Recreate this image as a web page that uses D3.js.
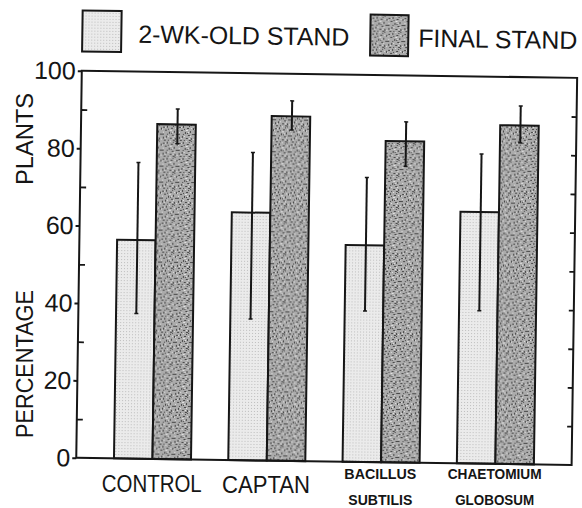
<!DOCTYPE html>
<html>
<head>
<meta charset="utf-8">
<script src="https://cdn.jsdelivr.net/npm/d3@7"></script>
<style>
html,body{margin:0;padding:0;background:#fff;}
svg{display:block;}
text{font-family:"Liberation Sans",Arial,Helvetica,sans-serif;fill:#151515;}
</style>
</head>
<body>
<script>
// ---- data ----
const categories = ["CONTROL", "CAPTAN", "BACILLUS SUBTILIS", "CHAETOMIUM GLOBOSUM"];
const categoryLines = [["CONTROL"], ["CAPTAN"], ["BACILLUS", "SUBTILIS"], ["CHAETOMIUM", "GLOBOSUM"]];
const seriesNames = ["2-WK-OLD STAND", "FINAL STAND"];
const twoWeek = [56.5, 64, 56, 65];
const finalStand = [86.5, 89, 83, 87.5];
const twoWeekLow = [37.5, 36.5, 39, 39.5];
const twoWeekHigh = [76.5, 79.5, 73.5, 80];
const finalLow = [81.5, 85.5, 76.5, 83];
const finalHigh = [90.5, 93, 88, 92.5];
const yTicks = [0, 20, 40, 60, 80, 100];
const yMinorLeft = [10, 30, 50, 70, 90];
const yMinorRight = [10, 20, 30, 40, 50, 60, 70, 80, 90];
const yTitle = ["PERCENTAGE", "PLANTS"];

// ---- layout ----
const W = 582, H = 508;
const x0 = 79, x1 = 574.4, y0 = 74.3, y1 = 461.4;
const ink = "#161616";

const svg = d3.select("body").append("svg").attr("width", W).attr("height", H);
const defs = svg.append("defs");

// fine stipple pattern (2-week)
const p1 = defs.append("pattern").attr("id", "stip").attr("patternUnits", "userSpaceOnUse")
  .attr("width", 3).attr("height", 3);
p1.append("rect").attr("width", 3).attr("height", 3).attr("fill", "#ebebeb");
p1.append("rect").attr("x", 1).attr("y", 1).attr("width", 1).attr("height", 1).attr("fill", "#bdbdbd");

// coarse speckle pattern (final)
const p2 = defs.append("pattern").attr("id", "speck").attr("patternUnits", "userSpaceOnUse")
  .attr("width", 16).attr("height", 16);
p2.append("rect").attr("width", 16).attr("height", 16).attr("fill", "#ababab");
const darkSpots = [[1,1,2,1],[5,0,1,2],[9,2,2,1],[12,5,1,2],[3,4,2,1],[7,6,1,2],[0,8,2,1],[10,9,2,1],[4,10,1,2],[8,12,2,1],[13,12,1,2],[2,14,2,1],[6,3,1,1],[11,0,1,1],[14,8,2,1],[15,2,1,2],[6,14,1,1],[11,14,2,1],[1,11,1,2],[9,7,1,1],[13,15,1,1],[5,8,1,1]];
darkSpots.forEach(s => p2.append("rect").attr("x", s[0]).attr("y", s[1]).attr("width", s[2]).attr("height", s[3]).attr("fill", "#484848"));
const lightSpots = [[3,1,1,1],[8,4,2,1],[1,6,1,1],[6,10,1,1],[12,10,1,1],[10,6,1,1],[3,12,1,1],[13,2,1,1],[15,13,1,1],[8,15,1,1],[0,3,1,1],[11,12,1,1]];
lightSpots.forEach(s => p2.append("rect").attr("x", s[0]).attr("y", s[1]).attr("width", s[2]).attr("height", s[3]).attr("fill", "#e2e2e2"));

// rotated group (scan tilt)
const g = svg.append("g").attr("transform", "rotate(0.82, 326.7, 267.85)");

const x = d3.scaleBand().domain(categories).range([x0, x1]).paddingInner(0.326).paddingOuter(0.33);
const xs = d3.scaleBand().domain(seriesNames).range([0, x.bandwidth()]);
const y = d3.scaleLinear().domain([0, 100]).range([y1, y0]);

const series = [
  {name: seriesNames[0], vals: twoWeek, lo: twoWeekLow, hi: twoWeekHigh, fill: "url(#stip)"},
  {name: seriesNames[1], vals: finalStand, lo: finalLow, hi: finalHigh, fill: "url(#speck)"}
];

// bars
series.forEach(s => {
  g.append("g").selectAll("rect").data(categories).join("rect")
    .attr("x", d => x(d) + xs(s.name))
    .attr("y", (d, i) => y(s.vals[i]))
    .attr("width", xs.bandwidth())
    .attr("height", (d, i) => y(0) - y(s.vals[i]))
    .attr("fill", s.fill).attr("stroke", ink).attr("stroke-width", 2);
});

// error bars
series.forEach(s => {
  const eg = g.append("g").selectAll("g").data(categories).join("g");
  const cx = d => x(d) + xs(s.name) + xs.bandwidth() / 2 + 1;
  eg.append("line").attr("x1", cx).attr("x2", cx)
    .attr("y1", (d, i) => y(s.lo[i])).attr("y2", (d, i) => y(s.hi[i]))
    .attr("stroke", ink).attr("stroke-width", 2);
  eg.append("line").attr("x1", d => cx(d) - 2).attr("x2", d => cx(d) + 2)
    .attr("y1", (d, i) => y(s.lo[i])).attr("y2", (d, i) => y(s.lo[i]))
    .attr("stroke", ink).attr("stroke-width", 1.5);
  eg.append("line").attr("x1", d => cx(d) - 2).attr("x2", d => cx(d) + 2)
    .attr("y1", (d, i) => y(s.hi[i])).attr("y2", (d, i) => y(s.hi[i]))
    .attr("stroke", ink).attr("stroke-width", 1.5);
});

// frame
g.append("rect").attr("x", x0).attr("y", y0).attr("width", x1 - x0).attr("height", y1 - y0)
  .attr("fill", "none").attr("stroke", ink).attr("stroke-width", 2);

// left axis (major outward ticks with labels)
const yAxis = d3.axisLeft(y).tickValues(yTicks).tickSize(4).tickPadding(2).tickFormat(d3.format("d"));
const ya = g.append("g").attr("transform", `translate(${x0},0)`).call(yAxis);
ya.select(".domain").remove();
ya.selectAll(".tick line").attr("stroke", ink).attr("stroke-width", 2);
ya.selectAll(".tick text").attr("font-size", 25).attr("fill", ink)
  .attr("font-family", "'Liberation Sans',Arial,sans-serif").attr("dy", "0.33em");

// left axis minor inward ticks
const yMinL = d3.axisRight(y).tickValues(yMinorLeft).tickSize(6).tickFormat("");
const ym = g.append("g").attr("transform", `translate(${x0},0)`).call(yMinL);
ym.select(".domain").remove();
ym.selectAll(".tick line").attr("stroke", ink).attr("stroke-width", 1.8);

// right axis inward ticks
const yR = d3.axisLeft(y).tickValues(yMinorRight).tickSize(5).tickFormat("");
const yr = g.append("g").attr("transform", `translate(${x1},0)`).call(yR);
yr.select(".domain").remove();
yr.selectAll(".tick line").attr("stroke", ink).attr("stroke-width", 1.8);

// legend (in rotated group)
const legendBoxes = [{x: 79, w: 39}, {x: 367, w: 38}];
const legendText = [{x: 135, len: 211}, {x: 415, len: 159}];
series.forEach((s, i) => {
  g.append("rect").attr("x", legendBoxes[i].x).attr("y", 14).attr("width", legendBoxes[i].w).attr("height", 41)
    .attr("fill", s.fill).attr("stroke", ink).attr("stroke-width", 2);
  g.append("text").attr("x", legendText[i].x).attr("y", 45.5).attr("font-size", 25)
    .attr("textLength", legendText[i].len).attr("lengthAdjust", "spacingAndGlyphs")
    .text(s.name);
});

// y title
svg.append("text").attr("transform", "translate(33,364) rotate(-90)").attr("text-anchor", "middle")
  .attr("font-size", 23).attr("textLength", 148).attr("lengthAdjust", "spacingAndGlyphs").text(yTitle[0]);
svg.append("text").attr("transform", "translate(33,139) rotate(-90)").attr("text-anchor", "middle")
  .attr("font-size", 23).attr("textLength", 92).attr("lengthAdjust", "spacingAndGlyphs").text(yTitle[1]);

// category labels
const catStyle = [
  {size: 24, bold: false, lens: [100], base: [492]},
  {size: 24, bold: false, lens: [88], base: [493]},
  {size: 15, bold: true, lens: [72, 64], base: [479, 504.5]},
  {size: 15, bold: true, lens: [94, 79], base: [479, 505]}
];
categories.forEach((c, i) => {
  const cx = x(c) + x.bandwidth() / 2 - 3.5;
  categoryLines[i].forEach((line, j) => {
    svg.append("text").attr("x", cx).attr("y", catStyle[i].base[j])
      .attr("text-anchor", "middle").attr("font-size", catStyle[i].size)
      .attr("font-weight", catStyle[i].bold ? "bold" : "normal")
      .attr("textLength", catStyle[i].lens[j]).attr("lengthAdjust", "spacingAndGlyphs")
      .text(line);
  });
});
</script>
</body>
</html>
